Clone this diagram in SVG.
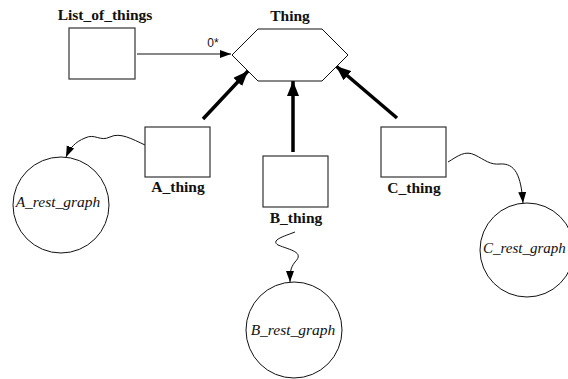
<svg xmlns="http://www.w3.org/2000/svg" width="568" height="379" viewBox="0 0 568 379">
<style>
.box{fill:#fff;stroke:#333;stroke-width:1.2}
.hex{fill:#fff;stroke:#111;stroke-width:1}
.circ{fill:#fff;stroke:#111;stroke-width:1}
.lbl{font-family:"Liberation Serif",serif;font-weight:bold;font-size:15.5px;fill:#111;text-anchor:middle}
.it{font-family:"Liberation Serif",serif;font-style:italic;font-size:15.5px;fill:#111;text-anchor:middle}
.thin{fill:none;stroke:#111;stroke-width:1}
.thick{fill:none;stroke:#000;stroke-width:3.5}
.small{font-family:"Liberation Sans",sans-serif;font-size:12px;fill:#111;text-anchor:middle}
</style>
<defs>
<marker id="ah" markerUnits="userSpaceOnUse" markerWidth="12" markerHeight="10" refX="11" refY="4" orient="auto" viewBox="0 0 12 8">
<path d="M0,0 L11,4 L0,8 Z" fill="#000"/>
</marker>
<marker id="ahb" markerUnits="userSpaceOnUse" markerWidth="16" markerHeight="12" refX="15" refY="6" orient="auto" viewBox="0 0 16 12">
<path d="M0,0 L15,6 L0,12 Z" fill="#000"/>
</marker>
</defs>
<g id="connectors">
<path class="thin" d="M137,54 L231,54" marker-end="url(#ah)"/>
<text class="small" x="213" y="47">0*</text>
<path class="thick" d="M203,119 L248,71" marker-end="url(#ahb)"/>
<path class="thick" d="M293,152 L293,81" marker-end="url(#ahb)"/>
<path class="thick" d="M397,118 L336,66" marker-end="url(#ahb)"/>
<path class="thin" d="M145,145 C132,139 120,132 110,137 C100,142 95,133 85,138 C75,142 70,148 66,157" marker-end="url(#ah)"/>
<path class="thin" d="M295,232 C285,236 270,240 278,245 C290,250 305,252 295,262 C290,268 290,274 290,282" marker-end="url(#ah)"/>
<path class="thin" d="M448,162 C458,156 465,150 475,155 C485,160 490,165 500,164 C515,163 521,175 523,203" marker-end="url(#ah)"/>
</g>
<g id="List_of_things">
<rect class="box" x="69" y="28" width="66" height="51"/>
<text class="lbl" x="105" y="20">List_of_things</text>
</g>
<g id="Thing">
<polygon class="hex" points="232,55 258,29 322,29 348,55 322,81 258,81"/>
<text class="lbl" x="290" y="21">Thing</text>
</g>
<g id="A_thing">
<rect class="box" x="145" y="127" width="65" height="50"/>
<text class="lbl" x="178" y="192">A_thing</text>
</g>
<g id="B_thing">
<rect class="box" x="263" y="156" width="65" height="51"/>
<text class="lbl" x="296" y="223">B_thing</text>
</g>
<g id="C_thing">
<rect class="box" x="381" y="127" width="65" height="50"/>
<text class="lbl" x="414" y="193">C_thing</text>
</g>
<g id="A_rest_graph">
<circle class="circ" cx="61" cy="205" r="48"/>
<text class="it" x="58" y="207">A_rest_graph</text>
</g>
<g id="B_rest_graph">
<circle class="circ" cx="294" cy="330" r="48"/>
<text class="it" x="293" y="335">B_rest_graph</text>
</g>
<g id="C_rest_graph">
<circle class="circ" cx="527" cy="250" r="47"/>
<text class="it" x="483" y="253" style="text-anchor:start;font-size:15px">C_rest_graph</text>
</g>
</svg>
